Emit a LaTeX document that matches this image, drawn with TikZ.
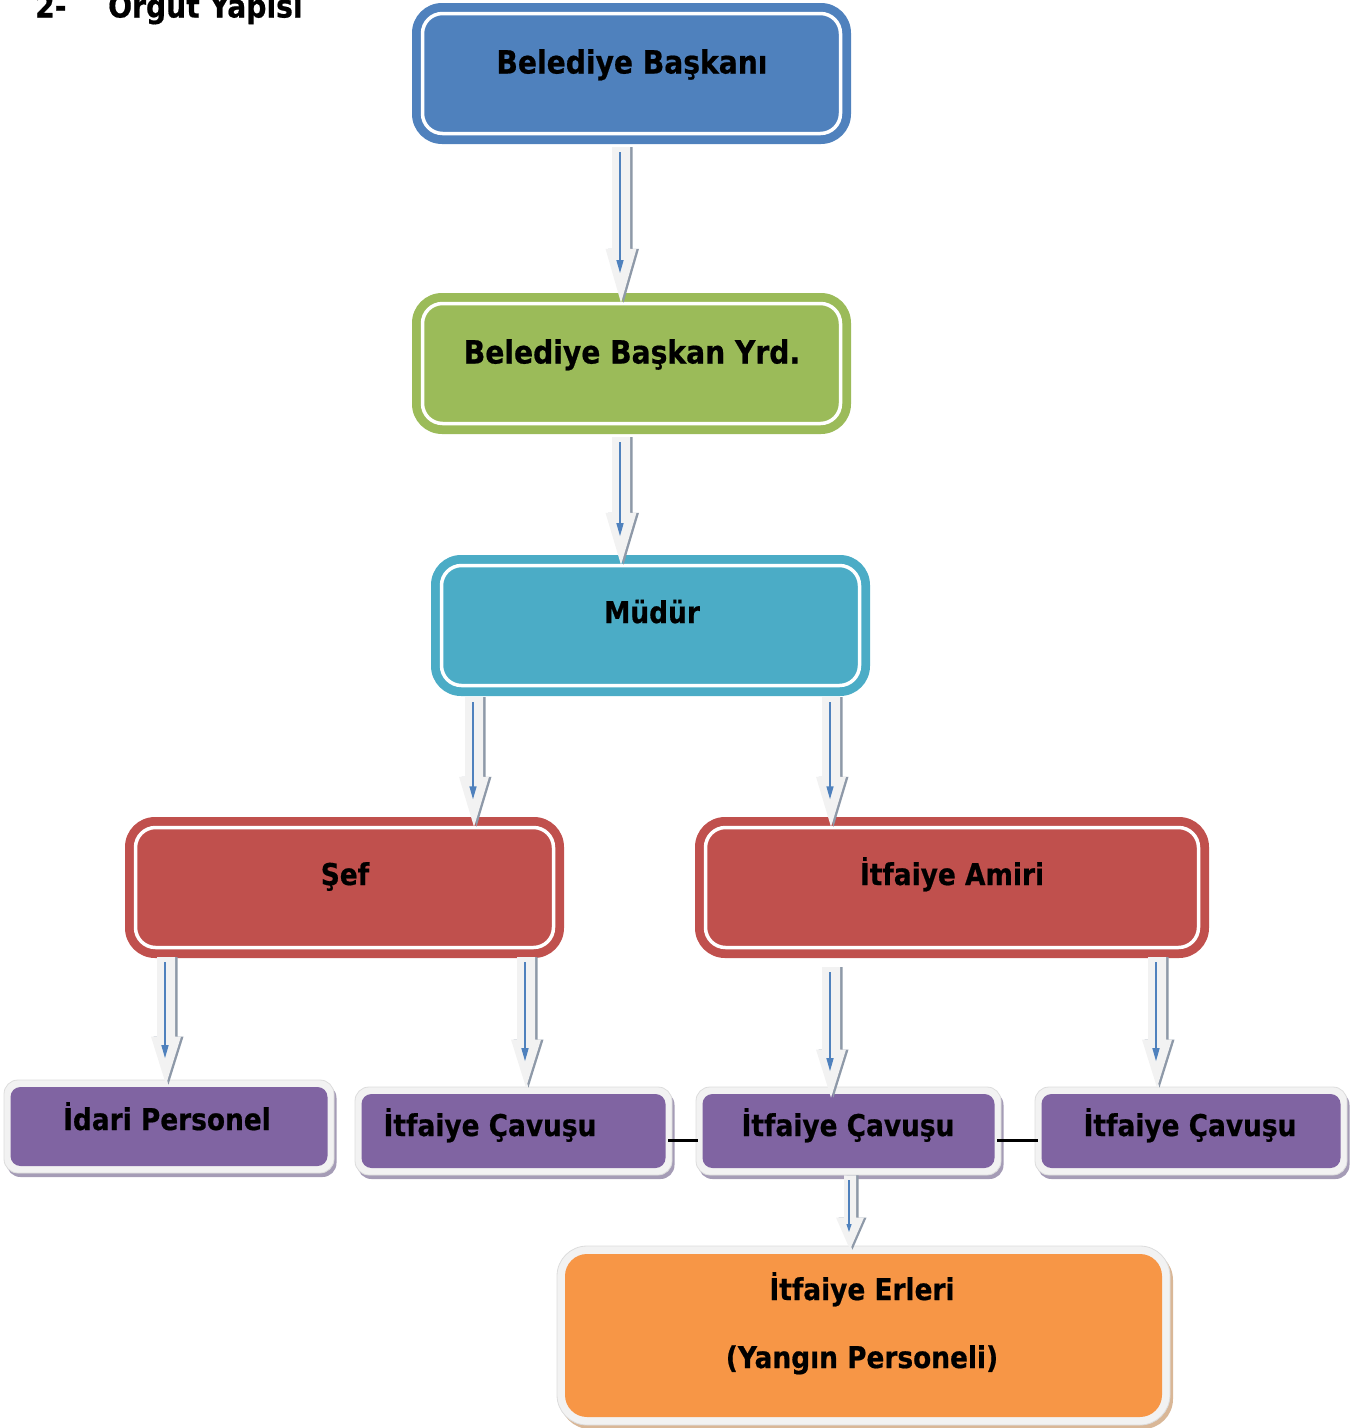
\documentclass[tikz,border=0pt]{standalone}
\usepackage{fontspec}
\setmainfont{DejaVu Sans}[FakeStretch=0.88, BoldFeatures={FakeBold=0.6}]
\usetikzlibrary{calc,shadows,arrows.meta}

\definecolor{cblue}{HTML}{4F81BD}
\definecolor{cgreen}{HTML}{9BBB59}
\definecolor{cteal}{HTML}{4BACC6}
\definecolor{cred}{HTML}{C0504D}
\definecolor{cpurple}{HTML}{8064A2}
\definecolor{corange}{HTML}{F79646}
\definecolor{cframe}{HTML}{F2F2F2}
\definecolor{cframeedge}{HTML}{DCDCDC}
\definecolor{cpshade}{HTML}{A59CB6}
\definecolor{coshade}{HTML}{D9B797}
\definecolor{arrowbodyc}{HTML}{F2F2F2}
\definecolor{arrowshadec}{HTML}{8E99A8}

\tikzset{
  mainbox/.style={rectangle, rounded corners=30pt, minimum height=141pt, inner sep=0pt,
    fill=#1,
    path picture={\draw[white, line width=3.5pt, rounded corners=20pt]
      ([shift={(10.5pt,10.5pt)}]path picture bounding box.south west) rectangle
      ([shift={(-10.5pt,-10.5pt)}]path picture bounding box.north east);}},
  subbox/.style={rectangle, rounded corners=14pt, inner sep=0pt, fill=cframe,
    draw=cframeedge, line width=0.8pt,
    drop shadow={shadow xshift=2.5pt, shadow yshift=-4pt, fill=cpshade, opacity=1},
    path picture={\fill[cpurple, rounded corners=10pt]
      ([shift={(6.5pt,7pt)}]path picture bounding box.south west) rectangle
      ([shift={(-6.5pt,-7pt)}]path picture bounding box.north east);}},
  basebox/.style={rectangle, rounded corners=30pt, inner sep=0pt, fill=cframe,
    draw=cframeedge, line width=0.8pt,
    drop shadow={shadow xshift=3pt, shadow yshift=-4pt, fill=coshade, opacity=1},
    path picture={\fill[corange, rounded corners=22pt]
      ([shift={(8pt,8pt)}]path picture bounding box.south west) rectangle
      ([shift={(-8pt,-8pt)}]path picture bounding box.north east);}},
  lbl/.style={inner sep=0pt, anchor=base, text=black,
    font=\bfseries\fontsize{30}{36}\selectfont},
  lblbig/.style={lbl, font=\bfseries\fontsize{32}{38}\selectfont},
  ttl/.style={inner sep=0pt, anchor=base west, text=black,
    font=\bfseries\fontsize{32}{38}\selectfont},
  arrowbody/.style={fill=arrowbodyc},
  arrowshade/.style={fill=arrowshadec},
  bigtip/.style={draw=cblue, line width=1.4pt, -{Triangle[length=13pt,width=7pt]}},
  smalltip/.style={draw=cblue, line width=1.1pt, -{Triangle[length=8pt,width=5pt]}},
  linkline/.style={draw=black, line width=3pt},
}

% block arrow: x, from node, to node, start gap, tip overlap,
% shaft half width, head half width, head length, inner tip style
\newcommand\blockarrow[9]{%
  \foreach \sty/\dx/\dy in {arrowshade/2.5pt/-2.5pt, arrowbody/0pt/0pt}{
    \fill[\sty, shift={(\dx,\dy)}] let \p1=(#2.south), \p2=(#3.north) in
      (#1pt-#6pt, \y1-#4pt) -- (#1pt+#6pt, \y1-#4pt)
      -- (#1pt+#6pt, \y2-#5pt+#8pt) -- (#1pt+#7pt, \y2-#5pt+#8pt)
      -- (#1pt, \y2-#5pt)
      -- (#1pt-#7pt, \y2-#5pt+#8pt) -- (#1pt-#6pt, \y2-#5pt+#8pt) -- cycle;
  }
  \draw[#9] let \p1=(#2.south), \p2=(#3.north) in
    (#1pt-1pt, \y1-#4pt-5pt) -- (#1pt-1pt, \y2-#5pt+0.55*#8pt);
}

\begin{document}
\begin{tikzpicture}[x=1pt, y=-1pt]
\useasboundingbox (0,0) rectangle (1351,1428);

% heading
\node[ttl] (h1) at (35,17.5) {2-};
\node[ttl] (h2) at (108,17.5) {Örgüt Yapısı};

% upper levels
\node[mainbox=cblue, minimum width=439pt] (b1) at (631.5,73.5) {};
\node[mainbox=cgreen, minimum width=439pt] (b2) at (631.5,363.5) {};
\node[mainbox=cteal, minimum width=439pt] (b3) at (650.5,625.5) {};
\node[mainbox=cred, minimum width=439pt] (b4) at (344.5,887.5) {};
\node[mainbox=cred, minimum width=514pt] (b5) at (952,887.5) {};

% staff level
\node[subbox, minimum width=330pt, minimum height=93pt] (p1) at (169,1126.5) {};
\node[subbox, minimum width=317pt, minimum height=88pt] (p2) at (513.5,1131) {};
\node[subbox, minimum width=305pt, minimum height=88pt] (p3) at (848.5,1131) {};
\node[subbox, minimum width=312pt, minimum height=88pt] (p4) at (1191,1131) {};

% firefighters
\node[basebox, minimum width=613pt, minimum height=179pt] (o1) at (863.5,1335.5) {};

% links between the sergeants
\draw[linkline, shorten <=-4pt, shorten >=-2pt] ([yshift=-9pt]p2.east) -- ([yshift=-9pt]p3.west);
\draw[linkline, shorten <=-4pt, shorten >=-3pt] ([yshift=-9pt]p3.east) -- ([yshift=-9pt]p4.west);

% labels
\node[lblbig] (t1) at (632,73.5) {Belediye Başkanı};
\node[lblbig] (t2) at (632,363.5) {Belediye Başkan Yrd.};
\node[lbl] (t3) at (652,623) {Müdür};
\node[lbl] (t4) at (345,885) {Şef};
\node[lbl] (t5) at (952,885) {İtfaiye Amiri};
\node[lbl] (t6) at (167,1130) {İdari Personel};
\node[lbl] (t7) at (490,1136) {İtfaiye Çavuşu};
\node[lbl] (t8) at (848,1136) {İtfaiye Çavuşu};
\node[lbl] (t9) at (1190,1136) {İtfaiye Çavuşu};
\node[lbl] (t10) at (862,1300) {İtfaiye Erleri};
\node[lbl] (t11) at (862,1368) {(Yangın Personeli)};

% reporting arrows
\blockarrow{621}{b1}{b2}{3}{10}{9}{15.5}{54}{bigtip}
\blockarrow{621}{b2}{b3}{3}{10}{9}{15.5}{52}{bigtip}
\blockarrow{474}{b3}{b4}{1}{10}{9}{15}{50}{bigtip}
\blockarrow{831}{b3}{b5}{1}{10}{9}{15}{50}{bigtip}
\blockarrow{166}{b4}{p1}{-1}{5}{9}{15}{48}{bigtip}
\blockarrow{526}{b4}{p2}{-1}{1}{9}{15}{48}{bigtip}
\blockarrow{831}{b5}{p3}{9}{11}{9}{15}{48}{bigtip}
\blockarrow{1157}{b5}{p4}{-1}{1}{9}{15}{48}{bigtip}
\blockarrow{850}{p3}{o1}{0}{4}{6}{14}{32}{smalltip}
\end{tikzpicture}
\end{document}
